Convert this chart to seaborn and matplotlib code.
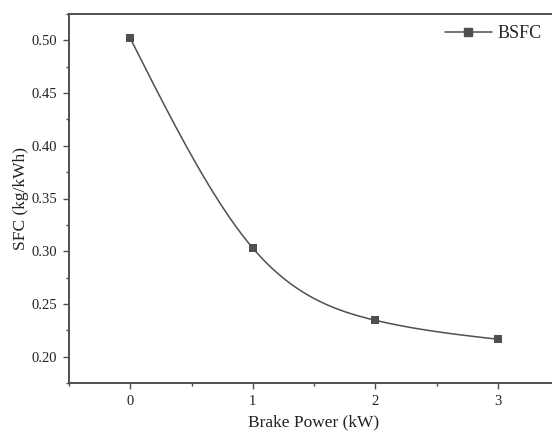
import numpy as np
import pandas as pd
import matplotlib
matplotlib.use("Agg")
import matplotlib.pyplot as plt
from matplotlib.lines import Line2D
from matplotlib.ticker import MultipleLocator
import seaborn as sns

# data
brake_power = [0, 1, 2, 3]
bsfc = [0.502, 0.303, 0.2345, 0.2165]
series_name = "BSFC"

col = "#4f4f4f"

sns.set_theme(style="white")
plt.rcParams["font.family"] = ["Liberation Serif", "DejaVu Serif"]


def natural_spline(x, y, n=300):
    # natural cubic spline through the points, used only to draw the smooth line
    x = np.asarray(x, float)
    y = np.asarray(y, float)
    h = np.diff(x)
    m = len(x)
    A = np.zeros((m, m))
    b = np.zeros(m)
    A[0, 0] = A[-1, -1] = 1
    for i in range(1, m - 1):
        A[i, i - 1] = h[i - 1]
        A[i, i] = 2 * (h[i - 1] + h[i])
        A[i, i + 1] = h[i]
        b[i] = 6 * ((y[i + 1] - y[i]) / h[i] - (y[i] - y[i - 1]) / h[i - 1])
    M = np.linalg.solve(A, b)
    xs = np.linspace(x[0], x[-1], n)
    idx = np.clip(np.searchsorted(x, xs) - 1, 0, m - 2)
    x0, x1 = x[idx], x[idx + 1]
    hh = x1 - x0
    ys = (M[idx] * (x1 - xs) ** 3 / (6 * hh) + M[idx + 1] * (xs - x0) ** 3 / (6 * hh)
          + (y[idx] / hh - M[idx] * hh / 6) * (x1 - xs)
          + (y[idx + 1] / hh - M[idx + 1] * hh / 6) * (xs - x0))
    return xs, ys


df = pd.DataFrame({"power": brake_power, "bsfc": bsfc})
xs, ys = natural_spline(brake_power, bsfc)
curve = pd.DataFrame({"power": xs, "bsfc": ys})

fig = plt.figure(figsize=(5.52, 4.34), dpi=100)
ax = fig.add_axes([69 / 552, 1 - 383 / 434, 490 / 552, 369 / 434])

sns.lineplot(data=curve, x="power", y="bsfc", color=col, linewidth=1.1, ax=ax)
sns.scatterplot(data=df, x="power", y="bsfc", color=col, marker="s", s=40,
                edgecolor=col, linewidth=0, zorder=3, ax=ax)

ax.set_xlim(-0.5, 3.5)
ax.set_ylim(0.175, 0.525)
ax.xaxis.set_major_locator(MultipleLocator(1))
ax.xaxis.set_minor_locator(MultipleLocator(0.5))
ax.yaxis.set_major_locator(MultipleLocator(0.05))
ax.yaxis.set_minor_locator(MultipleLocator(0.025))
ax.yaxis.set_major_formatter(matplotlib.ticker.FormatStrFormatter("%.2f"))

ax.tick_params(which="major", direction="out", length=4.5, width=1, color=col,
               labelsize=10.5, labelcolor="#222222", bottom=True, left=True, pad=4)
ax.tick_params(which="minor", direction="out", length=2.5, width=1, color=col,
               bottom=True, left=True)
for s in ax.spines.values():
    s.set_color(col)
    s.set_linewidth(1.4)

ax.set_xlabel("Brake Power (kW)", fontsize=12.5, color="#222222", labelpad=5)
ax.set_ylabel("SFC (kg/kWh)", fontsize=12.5, color="#222222", labelpad=2)

handle = Line2D([], [], color=col, linewidth=1.1, marker="s", markersize=6)
ax.legend([handle], [series_name], loc="upper right", frameon=False,
          fontsize=13, handlelength=2.6, handletextpad=0.3,
          bbox_to_anchor=((552 - 69) / 490, 1.0), borderaxespad=0.2)

fig.savefig("out.png", dpi=100)
